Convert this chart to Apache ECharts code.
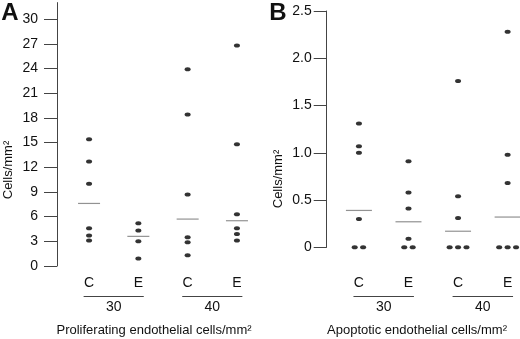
<!DOCTYPE html>
<html>
<head>
<meta charset="utf-8">
<script src="https://cdn.jsdelivr.net/npm/echarts@6/dist/echarts.min.js"></script>
<style>
  html, body { margin: 0; padding: 0; background: #fff; }
  #main_chart { width: 520px; height: 339px; }
</style>
</head>
<body>
<div id="main_chart"></div>
<script>
// categories and groups
var categories = ['C', 'E', 'C', 'E'];
var groups = ['30', '40'];

// panel A: proliferating endothelial cells/mm2
var prolifC30 = [15.4, 12.7, 10.0, 4.6, 3.7, 3.1];
var prolifE30 = [5.2, 4.3, 3.0, 0.9];
var prolifC40 = [23.9, 18.4, 8.7, 3.5, 2.9, 1.3];
var prolifE40 = [26.8, 14.8, 6.3, 4.6, 3.9, 3.1];
var prolifMeans = [7.6, 3.6, 5.7, 5.5];
var prolifTicks = [0, 3, 6, 9, 12, 15, 18, 21, 24, 27, 30];

// panel B: apoptotic endothelial cells/mm2
var apopC30 = [1.31, 1.07, 1.0, 0.3, 0, 0];
var apopE30 = [0.91, 0.58, 0.41, 0.09, 0, 0];
var apopC40 = [1.76, 0.54, 0.31, 0, 0, 0];
var apopE40 = [2.28, 0.98, 0.68, 0, 0, 0];
var apopMeans = [0.39, 0.27, 0.17, 0.32];
var apopTicks = [0, 0.5, 1.0, 1.5, 2.0, 2.5];

var FONT = '"Liberation Sans", Arial, sans-serif';
var AXIS_COLOR = '#444';

// spread identical values sideways like the original dot plot
var toPoints = function(values, catIdx, step){
    var seen = {};
    var counts = {};
    values.forEach(function(v){ counts[v] = (counts[v] || 0) + 1; });
    return values.map(function(v){
        var n = counts[v];
        var k = seen[v] || 0;
        seen[v] = k + 1;
        return [catIdx + (k - (n - 1) / 2) * step, v];
    });
};

var makeDots = function(lists, gridIdx, step){
    var pts = [];
    lists.forEach(function(list, i){
        pts = pts.concat(toPoints(list, i, step));
    });
    return {
        type: 'scatter',
        xAxisIndex: gridIdx,
        yAxisIndex: gridIdx,
        symbol: 'circle',
        symbolSize: [6, 4],
        itemStyle: { color: '#000' },
        silent: true,
        data: pts
    };
};

var makeMeans = function(means, gridIdx, width){
    return {
        type: 'scatter',
        xAxisIndex: gridIdx,
        yAxisIndex: gridIdx,
        symbol: 'rect',
        symbolSize: [width, 1.2],
        itemStyle: { color: '#777' },
        silent: true,
        z: 1,
        data: means.map(function(m, i){ return [i, m]; })
    };
};

var makeXAxis = function(gridIdx, max, margin){
    return {
        type: 'value',
        gridIndex: gridIdx,
        min: -0.65,
        max: max,
        axisLine: { show: false, onZero: false },
        axisTick: { show: false },
        splitLine: { show: false },
        axisLabel: {
            customValues: [0, 1, 2, 3],
            formatter: function(v){ return categories[Math.round(v)]; },
            margin: margin,
            fontSize: 14,
            color: '#111',
            fontFamily: FONT
        }
    };
};

var makeYAxis = function(gridIdx, max, ticks, interval, margin, fmt){
    return {
        type: 'value',
        gridIndex: gridIdx,
        min: 0,
        max: max,
        interval: interval,
        axisLine: { show: true, onZero: false, lineStyle: { color: AXIS_COLOR, width: 1 } },
        axisTick: { show: true, length: 13, customValues: ticks, lineStyle: { color: AXIS_COLOR, width: 1 } },
        splitLine: { show: false },
        axisLabel: {
            customValues: ticks,
            formatter: fmt,
            margin: margin,
            fontSize: 14,
            color: '#111',
            fontFamily: FONT
        }
    };
};

var chartOpt = {
    animation: false,
    backgroundColor: '#fff',
    grid: [
        { left: 57, top: 2.6, width: 204.6, height: 263.4 },
        { left: 326.7, top: 11, width: 193.5, height: 236.3 }
    ],
    xAxis: [
        makeXAxis(0, 3.5, 10),
        makeXAxis(1, 3.25, 29)
    ],
    yAxis: [
        makeYAxis(0, 32, prolifTicks, 3, 19, function(v){ return String(v); }),
        makeYAxis(1, 2.5, apopTicks, 0.5, 15, function(v){ return v === 0 ? '0' : v.toFixed(1); })
    ],
    series: [
        makeMeans(prolifMeans, 0, 22),
        makeMeans(apopMeans, 1, 26),
        makeDots([prolifC30, prolifE30, prolifC40, prolifE40], 0, 0.17),
        makeDots([apopC30, apopE30, apopC40, apopE40], 1, 0.17)
    ]
};

var main_chart = echarts.init(document.getElementById('main_chart'), null, { renderer: 'canvas' });
main_chart.setOption(chartOpt);

// group underlines, group labels, titles
var textStyle = function(txt, size, weight){
    return { text: txt, fontSize: size, fontWeight: weight || 'normal', fontFamily: FONT, fill: '#111', align: 'center', verticalAlign: 'middle' };
};
var graphics = [];
var titles = ['Proliferating endothelial cells/mm\u00b2', 'Apoptotic endothelial cells/mm\u00b2'];
var titleX = [154, 417];
var yTitleX = [8, 278];
var yTitleY = [170, 179];
var letters = ['A', 'B'];
var letterX = [10, 278];
[0, 1].forEach(function(g){
    groups.forEach(function(label, j){
        var c = j * 2 + 0.5;
        var x1 = main_chart.convertToPixel({ gridIndex: g }, [c - 0.61, 0])[0];
        var x2 = main_chart.convertToPixel({ gridIndex: g }, [c + 0.61, 0])[0];
        var xc = main_chart.convertToPixel({ gridIndex: g }, [c, 0])[0];
        graphics.push({ type: 'line', shape: { x1: x1, y1: 296.5, x2: x2, y2: 296.5 }, style: { stroke: AXIS_COLOR, lineWidth: 1 }, silent: true });
        graphics.push({ type: 'text', x: xc, y: 307, style: textStyle(label, 14), silent: true });
    });
    graphics.push({ type: 'text', x: titleX[g], y: 330, style: textStyle(titles[g], 13), silent: true });
    graphics.push({ type: 'text', x: yTitleX[g], y: yTitleY[g], rotation: Math.PI / 2, style: textStyle('Cells/mm\u00b2', 13), silent: true });
    graphics.push({ type: 'text', x: letterX[g], y: 13, style: textStyle(letters[g], 24, 'bold'), silent: true });
});
main_chart.setOption({ graphic: graphics });
</script>
</body>
</html>
